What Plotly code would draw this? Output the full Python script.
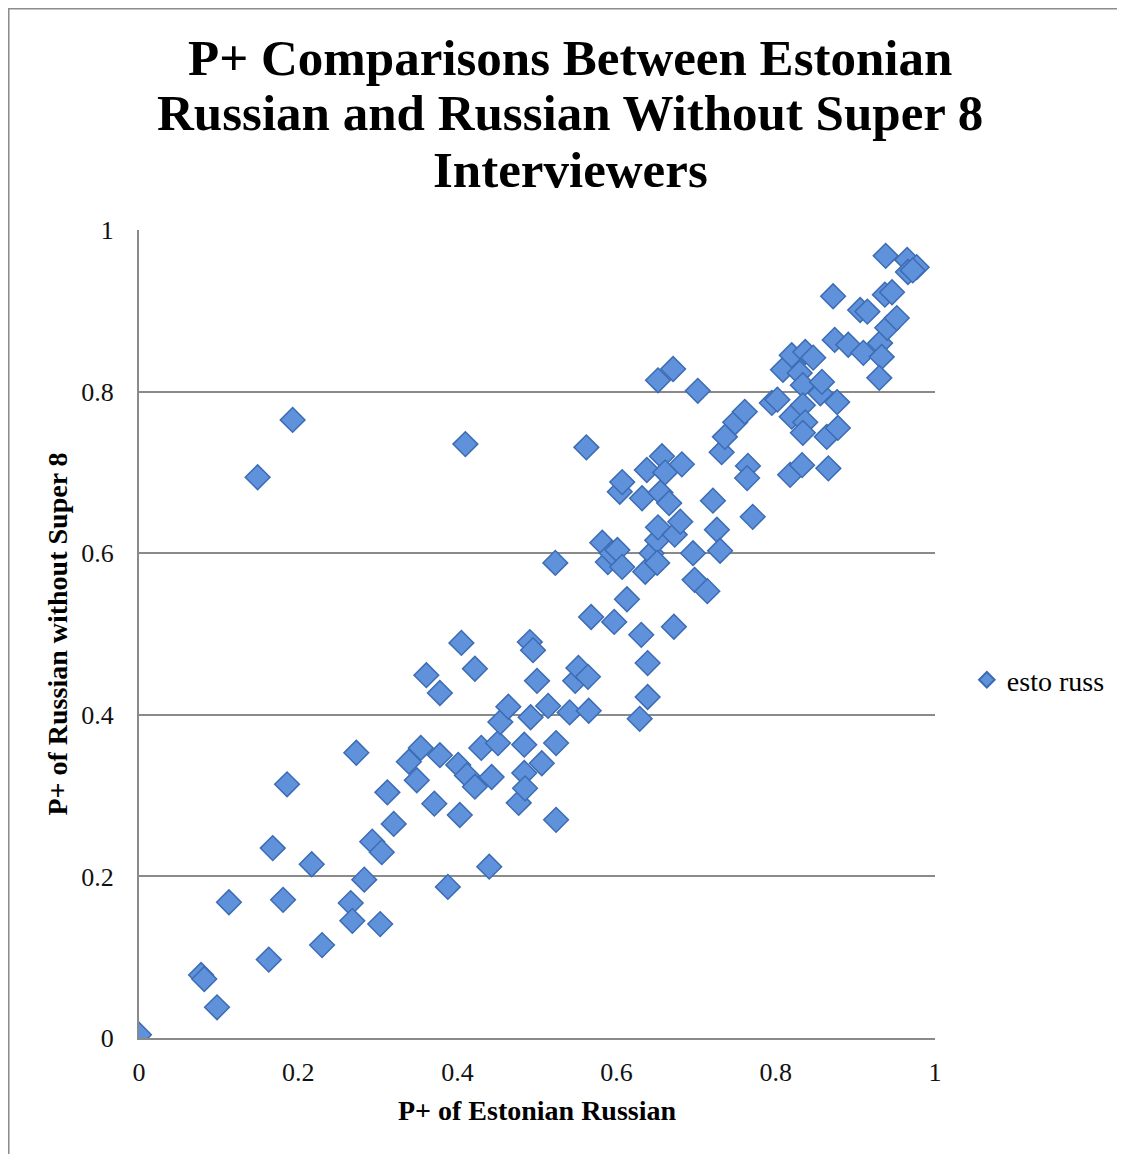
import plotly.graph_objects as go

# P+ values
esto_russ_x = [
    0.000, 0.078, 0.082, 0.098, 0.113, 0.163, 0.168, 0.181, 0.186, 0.149,
    0.193, 0.217, 0.230, 0.266, 0.268, 0.273, 0.283, 0.293, 0.305, 0.303,
    0.312, 0.320, 0.339, 0.349, 0.354, 0.361, 0.371, 0.378, 0.378, 0.388,
    0.401, 0.405, 0.403, 0.410, 0.412, 0.422, 0.422, 0.430, 0.440, 0.443,
    0.451, 0.454, 0.464, 0.477, 0.484, 0.484, 0.485, 0.491, 0.495, 0.492,
    0.500, 0.506, 0.514, 0.523, 0.524, 0.524, 0.541, 0.548, 0.552, 0.562,
    0.564, 0.565, 0.568, 0.582, 0.589, 0.594, 0.597, 0.601, 0.604, 0.607,
    0.607, 0.613, 0.631, 0.629, 0.632, 0.636, 0.638, 0.639, 0.639, 0.644,
    0.651, 0.651, 0.652, 0.652, 0.655, 0.657, 0.661, 0.666, 0.671, 0.672,
    0.673, 0.680, 0.682, 0.696, 0.698, 0.702, 0.714, 0.721, 0.726, 0.730,
    0.732, 0.736, 0.749, 0.761, 0.765, 0.764, 0.771, 0.795, 0.802, 0.809,
    0.818, 0.820, 0.820, 0.830, 0.833, 0.834, 0.834, 0.837, 0.837, 0.834,
    0.847, 0.856, 0.858, 0.864, 0.866, 0.872, 0.877, 0.878, 0.874, 0.891,
    0.906, 0.915, 0.910, 0.931, 0.933, 0.930, 0.940, 0.952, 0.938, 0.937,
    0.946, 0.965, 0.966, 0.977, 0.972,
]
esto_russ_y = [
    0.004, 0.078, 0.073, 0.038, 0.168, 0.097, 0.235, 0.171, 0.314, 0.694,
    0.765, 0.215, 0.115, 0.167, 0.145, 0.353, 0.196, 0.243, 0.230, 0.141,
    0.304, 0.265, 0.342, 0.319, 0.359, 0.449, 0.290, 0.427, 0.350, 0.187,
    0.338, 0.489, 0.276, 0.735, 0.325, 0.457, 0.311, 0.359, 0.212, 0.323,
    0.365, 0.391, 0.410, 0.291, 0.363, 0.328, 0.309, 0.490, 0.480, 0.397,
    0.442, 0.340, 0.411, 0.588, 0.365, 0.270, 0.403, 0.442, 0.458, 0.731,
    0.447, 0.405, 0.521, 0.613, 0.589, 0.600, 0.515, 0.604, 0.676, 0.688,
    0.583, 0.543, 0.499, 0.395, 0.668, 0.577, 0.703, 0.464, 0.422, 0.600,
    0.616, 0.588, 0.814, 0.632, 0.675, 0.720, 0.700, 0.662, 0.828, 0.509,
    0.623, 0.639, 0.710, 0.600, 0.567, 0.801, 0.553, 0.665, 0.629, 0.603,
    0.725, 0.744, 0.762, 0.775, 0.708, 0.693, 0.645, 0.786, 0.790, 0.827,
    0.697, 0.845, 0.769, 0.823, 0.709, 0.808, 0.783, 0.849, 0.762, 0.749,
    0.842, 0.798, 0.812, 0.744, 0.705, 0.918, 0.787, 0.755, 0.864, 0.858,
    0.901, 0.899, 0.848, 0.860, 0.843, 0.817, 0.879, 0.891, 0.968, 0.920,
    0.923, 0.963, 0.948, 0.954, 0.950,
]

tick_vals = [0, 0.2, 0.4, 0.6, 0.8, 1]
tick_text = ["0", "0.2", "0.4", "0.6", "0.8", "1"]

title_lines = [
    "P+ Comparisons Between Estonian",
    "Russian and Russian Without Super 8",
    "Interviewers",
]

SERIF = "Liberation Serif"
MARKER_FILL = "#5f92da"
MARKER_EDGE = "#3c6cb4"
GRID = "#8a8a8a"

fig = go.Figure()
fig.add_trace(
    go.Scatter(
        x=esto_russ_x,
        y=esto_russ_y,
        mode="markers",
        name="esto russ",
        marker=dict(
            symbol="diamond",
            size=19,
            color=MARKER_FILL,
            line=dict(color=MARKER_EDGE, width=1.5),
        ),
    )
)

axis_font = dict(family=SERIF, size=26, color="#111111")

# title is three separate lines so the line spacing can match the original
title_y = [1.2129, 1.1448, 1.0743]
annotations = [
    dict(
        text=f"<b>{line}</b>",
        xref="paper",
        yref="paper",
        x=0.5415,
        y=ty,
        xanchor="center",
        yanchor="middle",
        showarrow=False,
        font=dict(family=SERIF, size=51, color="black"),
    )
    for line, ty in zip(title_lines, title_y)
]

fig.update_layout(
    width=1117,
    height=1146,
    paper_bgcolor="white",
    plot_bgcolor="white",
    margin=dict(l=131, r=190, t=222, b=116),
    annotations=annotations,
    xaxis=dict(
        range=[0, 1],
        tickvals=tick_vals,
        ticktext=tick_text,
        tickfont=axis_font,
        showgrid=False,
        zeroline=False,
        showline=True,
        linecolor=GRID,
        linewidth=2,
        ticks="",
        ticklabelstandoff=10,
        title=dict(
            text="<b>P+ of Estonian Russian</b>",
            font=dict(family=SERIF, size=28, color="black"),
            standoff=14,
        ),
    ),
    yaxis=dict(
        range=[0, 1],
        tickvals=tick_vals,
        ticktext=tick_text,
        tickfont=axis_font,
        showgrid=True,
        gridcolor=GRID,
        gridwidth=2,
        zeroline=False,
        showline=True,
        linecolor=GRID,
        linewidth=2,
        ticks="",
        ticklabelstandoff=18,
        title=dict(
            text="<b>P+ of Russian without Super 8</b>",
            font=dict(family=SERIF, size=28, color="black"),
            standoff=5,
        ),
    ),
    showlegend=True,
    legend=dict(
        x=1.040,
        xanchor="left",
        y=0.443,
        yanchor="middle",
        font=dict(family=SERIF, size=28, color="black"),
        itemsizing="constant",
        bgcolor="rgba(0,0,0,0)",
    ),
    shapes=[
        dict(
            type="rect",
            xref="paper",
            yref="paper",
            x0=-0.1639,
            x1=1.236,
            y0=-0.2,
            y1=1.2741,
            line=dict(color="#8c8c8c", width=2),
            fillcolor="rgba(0,0,0,0)",
            layer="below",
        )
    ],
)

fig.write_html("out.html")
